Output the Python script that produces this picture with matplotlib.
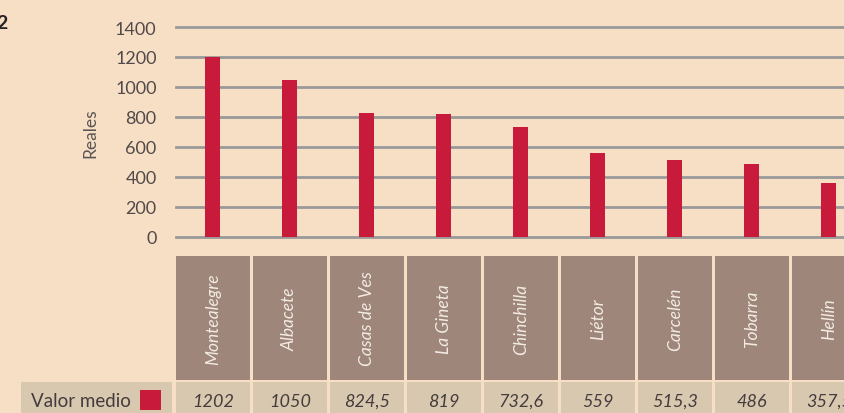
import matplotlib.pyplot as plt
from matplotlib.patches import Rectangle

# datos
pueblos = ['Montealegre', 'Albacete', 'Casas de Ves', 'La Gineta', 'Chinchilla',
           'Liétor', 'Carcelén', 'Tobarra', 'Hellín']
valores = [1202, 1050, 824.5, 819, 732.6, 559, 515.3, 486, 357.5]
etiquetas = ['1202', '1050', '824,5', '819', '732,6', '559', '515,3', '486', '357,5']
yticks = [0, 200, 400, 600, 800, 1000, 1200, 1400]

fondo = '#f6dfc4'
rojo = '#c81b3c'
celda_alta = '#9e877a'
celda_baja = '#d8c8b0'
gris = '#999999'

plt.rcParams['font.family'] = ['Lato', 'DejaVu Sans']

W, H = 844, 414
fig = plt.figure(figsize=(W / 100, H / 100), dpi=100, facecolor=fondo)

x0 = -0.48
x1 = (W - 212) / 77.1
ax = fig.add_axes([176 / W, (H - 238) / H, (W - 176) / W, 210 / H])
ax.set_facecolor('none')
ax.set_xlim(x0, x1)
ax.set_ylim(0, 1400)
for y in yticks:
    ax.axhline(y, color=gris, lw=2, zorder=1, clip_on=False)
pos = list(range(len(pueblos)))
ax.bar(pos, valores, width=0.195, color=rojo, zorder=2)
for s in ax.spines.values():
    s.set_visible(False)
ax.set_xticks([])
ax.set_yticks(yticks)
ax.tick_params(axis='y', length=0, pad=14, labelsize=13, labelcolor='#524a4a')
ax.set_ylabel('Reales', fontsize=12.5, color='#5a5454', labelpad=12)

# tabla
tb = fig.add_axes([176 / W, 0, (W - 176) / W, 157 / H])
tb.set_xlim(x0, x1)
tb.set_ylim(0, 157)
tb.axis('off')
for i in pos:
    tb.add_patch(Rectangle((i - 0.48, 33), 0.96, 124, color=celda_alta, lw=0))
    tb.add_patch(Rectangle((i - 0.48, -5), 0.96, 36, color=celda_baja, lw=0))
    tb.text(i, 95, pueblos[i], rotation=90, ha='center', va='center',
            fontsize=12.5, style='italic', color='#f3ebe4')
    tb.text(i, 12, etiquetas[i], ha='center', va='center',
            fontsize=13, style='italic', color='#443c3c')

tb.add_patch(Rectangle((-2.49, -5), 1.96, 36, color=celda_baja, lw=0, clip_on=False))
tb.add_patch(Rectangle((-0.947, 3), 0.273, 20, color=rojo, lw=0, clip_on=False))
tb.text(-2.36, 12, 'Valor medio', ha='left', va='center', fontsize=13.5,
        color='#443c3c', clip_on=False)

fig.text(-0.004, 0.93, '2', fontsize=14, weight='bold', color='#2a2222')

plt.savefig('out.png', dpi=100, facecolor=fondo)
